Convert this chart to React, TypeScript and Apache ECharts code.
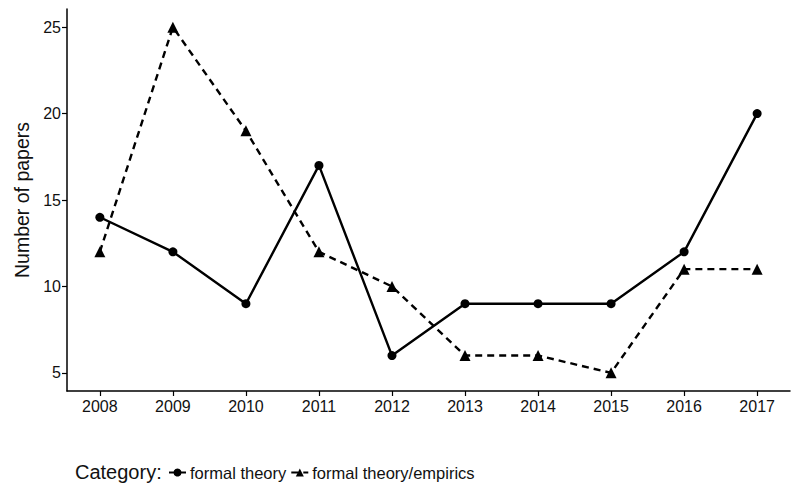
import React, { useEffect, useRef } from "react";
import * as echarts from "echarts";

const years = [2008, 2009, 2010, 2011, 2012, 2013, 2014, 2015, 2016, 2017];
const formalTheory = [14, 12, 9, 17, 6, 9, 9, 9, 12, 20];
const formalTheoryEmpirics = [12, 25, 19, 12, 10, 6, 6, 5, 11, 11];
const yTicks = [5, 10, 15, 20, 25];
const seriesNames = ["formal theory", "formal theory/empirics"];

const FONT = "Liberation Sans, Arial, Helvetica, sans-serif";

export default function App() {
  const ref = useRef<HTMLDivElement>(null);
  useEffect(() => {
    if (!ref.current) return;
    const chart = echarts.init(ref.current, undefined, { renderer: "svg" });
    chart.setOption({
      animation: false,
      backgroundColor: "#ffffff",
      textStyle: { fontFamily: FONT },
      grid: { left: 67, right: 10, top: 9, bottom: 109, containLabel: false },
      xAxis: {
        type: "value",
        min: 2007.55,
        max: 2017.45,
        splitLine: { show: false },
        axisLine: { show: true, onZero: false, lineStyle: { color: "#000", width: 1.5 } },
        axisTick: { show: true, length: 5, customValues: years, lineStyle: { color: "#000", width: 1.2 } },
        axisLabel: {
          customValues: years,
          color: "#111",
          fontSize: 16,
          fontFamily: FONT,
          margin: 7,
          formatter: (v: number) => String(Math.round(v)),
        },
      },
      yAxis: {
        type: "value",
        min: 3.95,
        max: 26.05,
        name: "Number of papers",
        nameLocation: "middle",
        nameGap: 33,
        nameTextStyle: { color: "#111", fontSize: 19.5, fontFamily: FONT },
        splitLine: { show: false },
        axisLine: { show: true, onZero: false, lineStyle: { color: "#000", width: 1.5 } },
        axisTick: { show: true, length: 5, customValues: yTicks, lineStyle: { color: "#000", width: 1.2 } },
        axisLabel: { customValues: yTicks, color: "#111", fontSize: 16, fontFamily: FONT, margin: 6 },
      },
      legend: {
        left: 163,
        top: 459,
        itemWidth: 17,
        itemHeight: 10,
        itemGap: 4,
        textStyle: { color: "#111", fontSize: 16.5, fontFamily: FONT, padding: [0, 0, 0, -1] },
        data: seriesNames,
      },
      graphic: [
        {
          type: "text",
          left: 75,
          top: 462,
          style: { text: "Category:", fill: "#111", font: "20px " + FONT },
        },
      ],
      series: [
        {
          name: seriesNames[0],
          type: "line",
          data: years.map((y, i) => [y, formalTheory[i]]),
          symbol: "circle",
          symbolSize: 9,
          lineStyle: { color: "#000", width: 2.4, type: "solid" },
          itemStyle: { color: "#000" },
        },
        {
          name: seriesNames[1],
          type: "line",
          data: years.map((y, i) => [y, formalTheoryEmpirics[i]]),
          symbol: "triangle",
          symbolSize: 11,
          lineStyle: { color: "#000", width: 2.4, type: [7, 5] },
          itemStyle: { color: "#000" },
        },
      ],
    });
    return () => chart.dispose();
  }, []);
  return <div ref={ref} style={{ position: "absolute", left: 0, top: 0, width: 800, height: 500 }} />;
}
